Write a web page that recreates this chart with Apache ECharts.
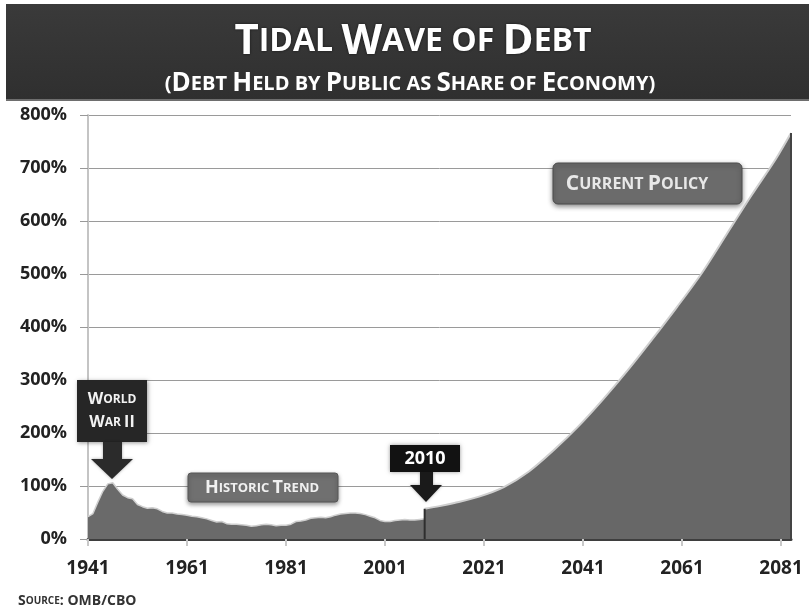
<!DOCTYPE html>
<html>
<head>
<meta charset="utf-8">
<script type="text/javascript" src="https://cdn.jsdelivr.net/npm/echarts/dist/echarts.min.js"></script>
<style>
  html, body { margin: 0; padding: 0; background: #fff; }
</style>
</head>
<body>
<div id="container" style="width:809px; height:610px;"></div>

<script type="text/javascript">
// historic debt held by public, % of GDP, one value per year from 1941
var histStart = 1941;
var histValues = [
  42, 48, 70, 90, 104, 106, 94, 83, 78, 76,
  65, 61, 58, 59, 57, 52, 49, 49, 47, 46,
  45, 43, 42, 40, 38, 35, 32, 33, 29, 28,
  28, 27, 26, 24, 25, 27, 28, 27, 25, 26,
  26, 28, 33, 34, 36, 39, 40, 41, 40, 42,
  45, 47, 48, 49, 49, 48, 46, 43, 40, 35,
  33, 33, 35, 36, 37, 36, 36, 37, 38
];

// current policy projection
var projYears  = [2009, 2012, 2015, 2020, 2025, 2030, 2035, 2040, 2045, 2050, 2055, 2060, 2065, 2070, 2075, 2080, 2083];
var projValues = [57,   62,   68,   80,   98,   127,  167,  212,  263,  318,  377,  438,  502,  575,  648,  718,  766];

var xTicks = [1941, 1961, 1981, 2001, 2021, 2041, 2061, 2081];
var yMax = 800;

var histData = histValues.map(function (v, i) { return [histStart + i, v]; });
var projData = projYears.map(function (y, i) { return [y, projValues[i]]; });
var splitData = [[projYears[0], 0], [projYears[0], projValues[0]]];
var lastIdx = projYears.length - 1;
var edgeData = [[projYears[lastIdx], 0], [projYears[lastIdx], projValues[lastIdx]]];

var font = '"Open Sans", "DejaVu Sans", sans-serif';

var dom = document.getElementById("container");
var myChart = echarts.init(dom);

// small caps done with two sizes of upper case letters
function smallCaps(big, small, color) {
  return {
    b: { fontSize: big, fontWeight: 'bold', fontFamily: font, fill: color },
    s: { fontSize: small, fontWeight: 'bold', fontFamily: font, fill: color }
  };
}

var option = {
  backgroundColor: '#ffffff',
  animation: false,
  grid: { left: 88, right: 18, top: 115, bottom: 71 },
  xAxis: {
    type: 'value',
    min: 1941,
    max: 2083,
    axisLine: { show: true, lineStyle: { color: '#3e3e3e', width: 3 } },
    axisTick: { show: true, customValues: xTicks, length: 7, lineStyle: { color: '#c8c8c8', width: 2 } },
    axisLabel: {
      customValues: xTicks,
      formatter: function (v) { return String(v); },
      margin: 20,
      fontSize: 19,
      fontWeight: 'bold',
      fontFamily: font,
      color: '#222'
    },
    splitLine: { show: false }
  },
  yAxis: {
    type: 'value',
    min: 0,
    max: yMax,
    interval: 100,
    axisLine: { show: true, lineStyle: { color: '#c4c4c4', width: 2 } },
    axisTick: { show: true, length: 8, lineStyle: { color: '#999' } },
    axisLabel: {
      formatter: '{value}%',
      margin: 21,
      fontSize: 18,
      fontWeight: 'bold',
      fontFamily: font,
      color: '#222'
    },
    splitLine: { show: true, lineStyle: { color: '#9a9a9a', width: 1 } }
  },
  series: [
    {
      name: 'Historic',
      type: 'line',
      data: histData,
      showSymbol: false,
      lineStyle: { color: '#cfcfcf', width: 1.5 },
      areaStyle: { color: '#6a6a6a', opacity: 1 },
      z: 2
    },
    {
      name: 'Current Policy',
      type: 'line',
      data: projData,
      smooth: 0.3,
      showSymbol: false,
      lineStyle: { color: '#cfcfcf', width: 2 },
      areaStyle: { color: '#676767', opacity: 1 },
      z: 3
    },
    {
      type: 'line',
      data: splitData,
      showSymbol: false,
      lineStyle: { color: '#2e2e2e', width: 2 },
      z: 4
    },
    {
      type: 'line',
      data: edgeData,
      showSymbol: false,
      lineStyle: { color: '#444', width: 2 },
      z: 4
    }
  ],
  graphic: [
    // header band
    {
      type: 'rect',
      shape: { x: 6, y: 4, width: 803, height: 97 },
      style: {
        fill: new echarts.graphic.LinearGradient(0, 0, 0, 1, [
          { offset: 0, color: '#3a3a3a' },
          { offset: 1, color: '#2f2f2f' }
        ])
      },
      z: 10
    },
    {
      type: 'rect',
      shape: { x: 6, y: 99, width: 803, height: 2 },
      style: { fill: '#6e6e6e' },
      z: 10
    },
    {
      type: 'text',
      x: 413, y: 42,
      style: {
        text: '{b|T}{s|IDAL }{b|W}{s|AVE OF }{b|D}{s|EBT}',
        rich: smallCaps(42, 32, '#ffffff'),
        align: 'center',
        verticalAlign: 'middle',
        textShadowColor: 'rgba(0,0,0,0.6)',
        textShadowBlur: 3
      },
      z: 11
    },
    {
      type: 'text',
      x: 410, y: 84,
      style: {
        text: '{s|(}{b|D}{s|EBT }{b|H}{s|ELD BY }{b|P}{s|UBLIC AS }{b|S}{s|HARE OF }{b|E}{s|CONOMY)}',
        rich: smallCaps(26, 20, '#ffffff'),
        align: 'center',
        verticalAlign: 'middle'
      },
      z: 11
    },
    // World War II annotation
    {
      type: 'rect',
      shape: { x: 77, y: 380, width: 70, height: 62 },
      style: { fill: '#262626', shadowColor: 'rgba(0,0,0,0.4)', shadowBlur: 4, shadowOffsetX: 1, shadowOffsetY: 1 },
      z: 12
    },
    {
      type: 'text',
      x: 112, y: 411,
      style: {
        text: '{b|W}{s|ORLD}\n{b|W}{s|AR }{b|II}',
        rich: smallCaps(16, 12, '#f2f2f2'),
        lineHeight: 23,
        align: 'center',
        verticalAlign: 'middle'
      },
      z: 13
    },
    {
      type: 'polygon',
      shape: { points: [[103, 442], [122, 442], [122, 459], [133, 459], [112, 479], [91, 459], [103, 459]] },
      style: { fill: '#2b2b2b', shadowColor: 'rgba(0,0,0,0.35)', shadowBlur: 3 },
      z: 12
    },
    // Historic trend label
    {
      type: 'rect',
      shape: { x: 188, y: 473, width: 150, height: 29, r: 3 },
      style: { fill: '#707070', stroke: '#575757', lineWidth: 1, shadowColor: 'rgba(0,0,0,0.4)', shadowBlur: 4, shadowOffsetY: 2 },
      z: 12
    },
    {
      type: 'text',
      x: 262, y: 488,
      style: {
        text: '{b|H}{s|ISTORIC }{b|T}{s|REND}',
        rich: smallCaps(18, 13, '#f0f0f0'),
        align: 'center',
        verticalAlign: 'middle'
      },
      z: 13
    },
    // 2010 annotation
    {
      type: 'rect',
      shape: { x: 390, y: 445, width: 70, height: 27 },
      style: { fill: '#121212', shadowColor: 'rgba(0,0,0,0.4)', shadowBlur: 4 },
      z: 12
    },
    {
      type: 'text',
      x: 425, y: 459,
      style: {
        text: '2010',
        fontSize: 18, fontWeight: 'bold', fontFamily: font, fill: '#ffffff',
        align: 'center', verticalAlign: 'middle'
      },
      z: 13
    },
    {
      type: 'polygon',
      shape: { points: [[420, 472], [433, 472], [433, 485], [442, 485], [426, 502], [410, 485], [420, 485]] },
      style: { fill: '#1a1a1a', shadowColor: 'rgba(0,0,0,0.35)', shadowBlur: 3 },
      z: 12
    },
    // Current policy label
    {
      type: 'rect',
      shape: { x: 553, y: 163, width: 189, height: 41, r: 5 },
      style: { fill: '#6b6b6b', stroke: '#4c4c4c', lineWidth: 1, shadowColor: 'rgba(0,0,0,0.45)', shadowBlur: 5, shadowOffsetY: 2 },
      z: 12
    },
    {
      type: 'text',
      x: 637, y: 184,
      style: {
        text: '{b|C}{s|URRENT }{b|P}{s|OLICY}',
        rich: smallCaps(21, 16, '#e8e8e8'),
        align: 'center',
        verticalAlign: 'middle'
      },
      z: 13
    },
    // source
    {
      type: 'text',
      x: 18, y: 601,
      style: {
        text: '{b|S}{s|OURCE}{b|: OMB/CBO}',
        rich: smallCaps(14, 10, '#333333'),
        align: 'left',
        verticalAlign: 'middle'
      },
      z: 13
    }
  ]
};

myChart.setOption(option, true);
window.addEventListener('resize', function () {
  myChart.resize();
});
</script>
</body>
</html>
